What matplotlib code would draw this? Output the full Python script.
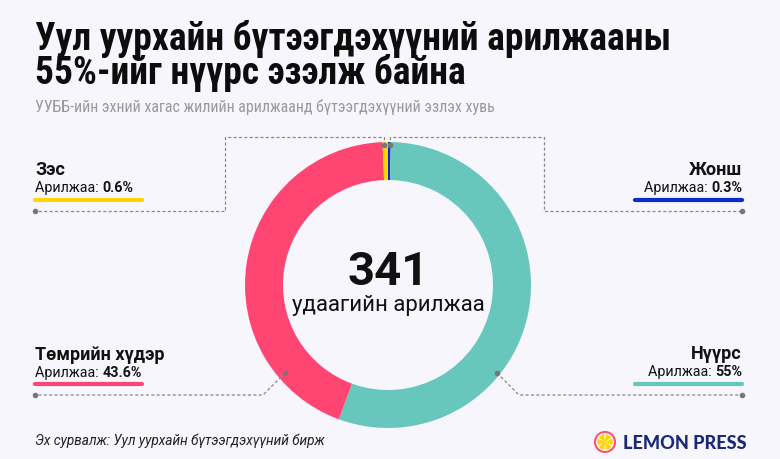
import matplotlib
matplotlib.use("Agg")
import matplotlib.pyplot as plt
from matplotlib.patches import Circle, Wedge

# ---- data ----
categories = ["Жонш", "Нүүрс", "Төмрийн хүдэр", "Зэс"]
shares = [0.3, 55.0, 43.6, 0.6]
share_labels = ["0.3%", "55%", "43.6%", "0.6%"]
colors = ["#0A2BC8", "#68C7BC", "#FF4572", "#FFD600"]
total_trades = "341"

title_lines = ["Уул уурхайн бүтээгдэхүүний арилжааны", "55%-ийг нүүрс эзэлж байна"]
subtitle = "УУББ-ийн эхний хагас жилийн арилжаанд бүтээгдэхүүний эзлэх хувь"
source = "Эх сурвалж: Уул уурхайн бүтээгдэхүүний бирж"

BG = "#F7F6FD"
W, H = 780, 460
plt.rcParams['font.family'] = ['Roboto', 'DejaVu Sans']
COND = ['Roboto Condensed', 'DejaVu Sans']

fig = plt.figure(figsize=(W / 100, H / 100), dpi=100, facecolor=BG)
ax = fig.add_axes([0, 0, 1, 1])
ax.set_facecolor(BG)
renderer = fig.canvas.get_renderer()

def Y(y):
    return H - y

def fit(t, width):
    bb = t.get_window_extent(renderer=renderer)
    t.set_fontsize(t.get_fontsize() * width / bb.width)

cx, cy, R, ring = 388, 286, 143, 38
ax.pie(shares, colors=colors, center=(cx, Y(cy)), radius=R, startangle=90,
       counterclock=False, wedgeprops=dict(width=ring, linewidth=0))
ax.set_xlim(0, W)
ax.set_ylim(0, H)
ax.set_aspect('equal')
ax.axis('off')

# title / subtitle
t1 = ax.text(35, Y(50), title_lines[0], fontsize=26, fontweight='bold', family=COND,
             color="#0D0D0D", va='baseline', ha='left')
fit(t1, 638)
ax.text(35, Y(84), title_lines[1], fontsize=t1.get_fontsize(), fontweight='bold', family=COND,
        color="#0D0D0D", va='baseline', ha='left')
st = ax.text(35, Y(112), subtitle, fontsize=12, family=COND,
             color="#9A9A9A", va='baseline', ha='left')
fit(st, 462)

# center text
ax.text(cx, Y(272), total_trades, fontsize=34, fontweight='bold', color="#111111",
        ha='center', va='center')
ax.text(cx, Y(305), "удаагийн арилжаа", fontsize=16, color="#111111",
        ha='center', va='center')

dash = dict(color="#8A8A8A", lw=0.9, ls=(0, (2.5, 1.8)))
dot = dict(color="#777777", ms=3, marker='o', ls='none')

# leader lines
ax.plot([384, 384, 225, 225, 35], [Y(146), Y(138), Y(138), Y(212), Y(212)], **dash)
ax.plot([35, 384], [Y(212), Y(146)], **dot)
ax.plot([390, 390, 544, 544, 742], [Y(146), Y(138), Y(138), Y(212), Y(212)], **dash)
ax.plot([742, 390], [Y(212), Y(146)], **dot)
ax.plot([285, 263, 35], [Y(374), Y(396), Y(396)], **dash)
ax.plot([35, 285], [Y(396), Y(374)], **dot)
ax.plot([497, 519, 742], [Y(374), Y(396), Y(396)], **dash)
ax.plot([742, 497], [Y(396), Y(374)], **dot)

# labels
SUB = 10.3
def label(i, x, ytitle, ysub, ybar, ha):
    ax.text(x, Y(ytitle), categories[i], fontsize=13, fontweight='bold', color="#111111",
            ha=ha, va='center')
    if ha == 'left':
        a = ax.text(x, Y(ysub), "Арилжаа: ", fontsize=SUB, color="#111111", ha='left', va='center')
        bb = a.get_window_extent(renderer=renderer)
        ax.text(bb.x1, Y(ysub), share_labels[i], fontsize=SUB, fontweight='bold',
                color="#111111", ha='left', va='center')
        x0, x1 = x, x + 107
    else:
        b = ax.text(x, Y(ysub), share_labels[i], fontsize=SUB, fontweight='bold',
                    color="#111111", ha='right', va='center')
        bb = b.get_window_extent(renderer=renderer)
        ax.text(bb.x0, Y(ysub), "Арилжаа: ", fontsize=SUB, color="#111111", ha='right', va='center')
        x0, x1 = x - 107, x
    ax.plot([x0, x1], [Y(ybar), Y(ybar)], color=colors[i], lw=3, solid_capstyle='round')

label(3, 35, 170, 188, 201, 'left')
label(0, 742, 170, 188, 201, 'right')
label(2, 35, 355, 373, 385, 'left')
label(1, 742, 354, 372, 385, 'right')

# source
ax.text(35, Y(441), source, fontsize=9.8, style='italic', color="#222222", ha='left', va='center')

# logo
lx, ly, lr = 605, 443, 10
ax.add_patch(Circle((lx, Y(ly)), lr, facecolor="white", edgecolor="#FF4F7B", lw=1.5))
for k in range(6):
    a0 = 90 + k * 60 + 5
    ax.add_patch(Wedge((lx, Y(ly)), lr - 2.2, a0, a0 + 50, facecolor="#FFD600", edgecolor='none'))
lt = ax.text(623, Y(444), "LEMON PRESS", fontsize=13, fontweight='black', color="#1B2878",
             ha='left', va='center', family=['Lato', 'DejaVu Sans'])
fit(lt, 124)

fig.savefig("out.png", dpi=100, facecolor=BG)
